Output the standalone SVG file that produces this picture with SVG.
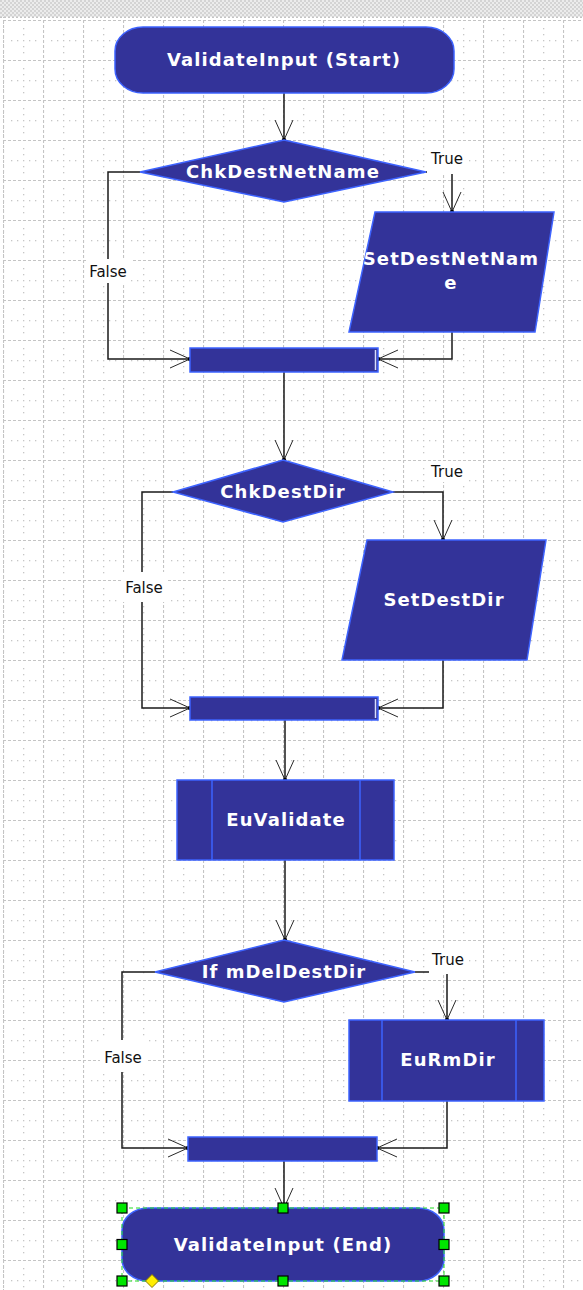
<svg xmlns="http://www.w3.org/2000/svg" width="583" height="1290" viewBox="0 0 583 1290">
  <defs>
    <!-- canvas grid: dashed cell lines with a small dot cross in every cell -->
    <pattern id="grid" x="3" y="20" width="40" height="40" patternUnits="userSpaceOnUse">
      <path d="M0.5,0 V40 M0,0.5 H40" fill="none" stroke="#c4c4c4" stroke-width="1.2" stroke-dasharray="3,2"/>
      <g fill="#c6c6c6">
        <rect x="8" y="20" width="1.3" height="1.3"/>
        <rect x="14" y="20" width="1.3" height="1.3"/>
        <rect x="20" y="8" width="1.3" height="1.3"/>
        <rect x="20" y="14" width="1.3" height="1.3"/>
        <rect x="20" y="20" width="1.3" height="1.3"/>
        <rect x="20" y="26" width="1.3" height="1.3"/>
        <rect x="20" y="32" width="1.3" height="1.3"/>
        <rect x="26" y="20" width="1.3" height="1.3"/>
        <rect x="32" y="20" width="1.3" height="1.3"/>
      </g>
    </pattern>
    <!-- hatched ruler band along the top edge -->
    <pattern id="hatch" x="0" y="0" width="4" height="4" patternUnits="userSpaceOnUse">
      <rect width="4" height="4" fill="#ececec"/>
      <rect width="2" height="2" fill="#d4d4d4"/>
      <rect x="2" y="2" width="2" height="2" fill="#d4d4d4"/>
    </pattern>
    <marker id="arrow" viewBox="-22 -11 24 22" refX="0" refY="0" markerWidth="24" markerHeight="22" markerUnits="userSpaceOnUse" orient="auto">
      <path d="M-20,-9 L0,0 L-20,9" fill="none" stroke="#2a2a2a" stroke-width="1"/>
      <circle cx="0" cy="0" r="2.2" fill="#000"/>
    </marker>
    <clipPath id="clip-netname">
      <polygon points="375,212 554,212 535,332 349,332"/>
    </clipPath>
    <style>
      .shape { fill: #333399; stroke: #3d63ff; stroke-width: 1.5; }
      .inner { stroke: #3d63ff; stroke-width: 1.5; fill: none; }
      .strip { stroke: #d6defc; stroke-width: 1.5; }
      .ntext { font-family: "DejaVu Sans", Verdana, sans-serif; font-weight: bold; font-size: 18px; letter-spacing: 1.1px; fill: #ffffff; text-anchor: middle; }
      .conn { fill: none; stroke: #1a1a1a; stroke-width: 1.5; }
      .lbl { font-family: "DejaVu Sans", Verdana, sans-serif; font-size: 15px; fill: #111111; text-anchor: middle; }
      .lblbg { fill: #ffffff; }
      .handle { fill: #00e600; stroke: #000000; stroke-width: 1.2; }
    </style>
  </defs>

  <!-- canvas -->
  <rect x="0" y="0" width="583" height="1290" fill="#ffffff"/>
  <rect x="3" y="20" width="580" height="1270" fill="url(#grid)"/>
  <rect x="0" y="0" width="583" height="17" fill="url(#hatch)"/>
  <path d="M0,17.5 H583" stroke="#c4c4c4" stroke-width="1" stroke-dasharray="2,2"/>
  <path d="M3.5,17 V1290" stroke="#c4c4c4" stroke-width="1" stroke-dasharray="1,2"/>

  <!-- connectors -->
  <g id="connectors">
    <path class="conn" d="M284,93 V140" marker-end="url(#arrow)"/>
    <path class="conn" d="M140,172 H108 V359 H190" marker-end="url(#arrow)"/>
    <path class="conn" d="M426,172 H452 V212" marker-end="url(#arrow)"/>
    <path class="conn" d="M452,332 V359 H378" marker-end="url(#arrow)"/>
    <path class="conn" d="M284,372 V460" marker-end="url(#arrow)"/>
    <path class="conn" d="M173,492 H142 V708 H190" marker-end="url(#arrow)"/>
    <path class="conn" d="M393,492 H443 V540" marker-end="url(#arrow)"/>
    <path class="conn" d="M443,660 V708 H378" marker-end="url(#arrow)"/>
    <path class="conn" d="M285,720 V780" marker-end="url(#arrow)"/>
    <path class="conn" d="M285,860 V940" marker-end="url(#arrow)"/>
    <path class="conn" d="M155,972 H122 V1148 H188" marker-end="url(#arrow)"/>
    <path class="conn" d="M415,972 H447 V1020" marker-end="url(#arrow)"/>
    <path class="conn" d="M447,1101 V1148 H377" marker-end="url(#arrow)"/>
    <path class="conn" d="M284,1161 V1208" marker-end="url(#arrow)"/>

    <!-- branch labels on white plates -->
    <g id="label-netname-true">
      <rect class="lblbg" x="427" y="148" width="40" height="26"/>
      <text class="lbl" x="447" y="164">True</text>
    </g>
    <g id="label-netname-false">
      <rect class="lblbg" x="86" y="259" width="45" height="24"/>
      <text class="lbl" x="108" y="277">False</text>
    </g>
    <g id="label-destdir-true">
      <rect class="lblbg" x="428" y="461" width="40" height="21"/>
      <text class="lbl" x="447" y="477">True</text>
    </g>
    <g id="label-destdir-false">
      <rect class="lblbg" x="121" y="572" width="46" height="30"/>
      <text class="lbl" x="144" y="593">False</text>
    </g>
    <g id="label-deldir-true">
      <rect class="lblbg" x="429" y="948" width="40" height="26"/>
      <text class="lbl" x="448" y="965">True</text>
    </g>
    <g id="label-deldir-false">
      <rect class="lblbg" x="100" y="1040" width="46" height="32"/>
      <text class="lbl" x="123" y="1063">False</text>
    </g>
  </g>

  <!-- nodes -->
  <g id="node-start">
    <rect class="shape" x="115" y="27" width="339" height="66" rx="28" ry="24"/>
    <text class="ntext" x="284" y="66">ValidateInput (Start)</text>
  </g>

  <g id="node-chk-destnetname">
    <polygon class="shape" points="284,140 426,172 284,202 140,172"/>
    <text class="ntext" x="283" y="178">ChkDestNetName</text>
  </g>

  <g id="node-set-destnetname">
    <polygon class="shape" points="375,212 554,212 535,332 349,332"/>
    <g clip-path="url(#clip-netname)">
      <text class="ntext" x="451" y="265">SetDestNetNam</text>
      <text class="ntext" x="451" y="289">e</text>
    </g>
  </g>

  <g id="node-merge-1">
    <rect class="shape" x="190" y="348" width="188" height="24"/>
    <line class="strip" x1="375.5" y1="350" x2="375.5" y2="370"/>
  </g>

  <g id="node-chk-destdir">
    <polygon class="shape" points="283,460 393,492 283,522 173,492"/>
    <text class="ntext" x="283" y="498">ChkDestDir</text>
  </g>

  <g id="node-set-destdir">
    <polygon class="shape" points="367,540 546,540 527,660 342,660"/>
    <text class="ntext" x="444" y="606">SetDestDir</text>
  </g>

  <g id="node-merge-2">
    <rect class="shape" x="190" y="697" width="188" height="23"/>
    <line class="strip" x1="375.5" y1="699" x2="375.5" y2="718"/>
  </g>

  <g id="node-euvalidate">
    <rect class="shape" x="177" y="780" width="217" height="80"/>
    <line class="inner" x1="212" y1="780" x2="212" y2="860"/>
    <line class="inner" x1="360" y1="780" x2="360" y2="860"/>
    <text class="ntext" x="286" y="826">EuValidate</text>
  </g>

  <g id="node-if-deldestdir">
    <polygon class="shape" points="284,940 415,972 284,1002 155,972"/>
    <text class="ntext" x="284" y="978">If mDelDestDir</text>
  </g>

  <g id="node-eurmdir">
    <rect class="shape" x="349" y="1020" width="195" height="81"/>
    <line class="inner" x1="382" y1="1020" x2="382" y2="1101"/>
    <line class="inner" x1="516" y1="1020" x2="516" y2="1101"/>
    <text class="ntext" x="448" y="1066">EuRmDir</text>
  </g>

  <g id="node-merge-3">
    <rect class="shape" x="188" y="1137" width="189" height="24"/>
  </g>

  <g id="node-end">
    <rect class="shape" x="122" y="1208" width="322" height="73" rx="26" ry="22"/>
    <text class="ntext" x="283" y="1251">ValidateInput (End)</text>
    <!-- selection frame and grips -->
    <rect x="122" y="1208" width="322" height="73" fill="none" stroke="#22dd22" stroke-width="1" stroke-dasharray="4,3"/>
    <rect class="handle" x="117" y="1203" width="10" height="10"/>
    <rect class="handle" x="278" y="1203" width="10" height="10"/>
    <rect class="handle" x="439" y="1203" width="10" height="10"/>
    <rect class="handle" x="117" y="1239.5" width="10" height="10"/>
    <rect class="handle" x="439" y="1239.5" width="10" height="10"/>
    <rect class="handle" x="117" y="1276" width="10" height="10"/>
    <rect class="handle" x="278" y="1276" width="10" height="10"/>
    <rect class="handle" x="439" y="1276" width="10" height="10"/>
    <polygon points="152,1274.5 158.5,1281 152,1287.5 145.5,1281" fill="#ffee00" stroke="#8a7a00" stroke-width="1"/>
  </g>
</svg>
